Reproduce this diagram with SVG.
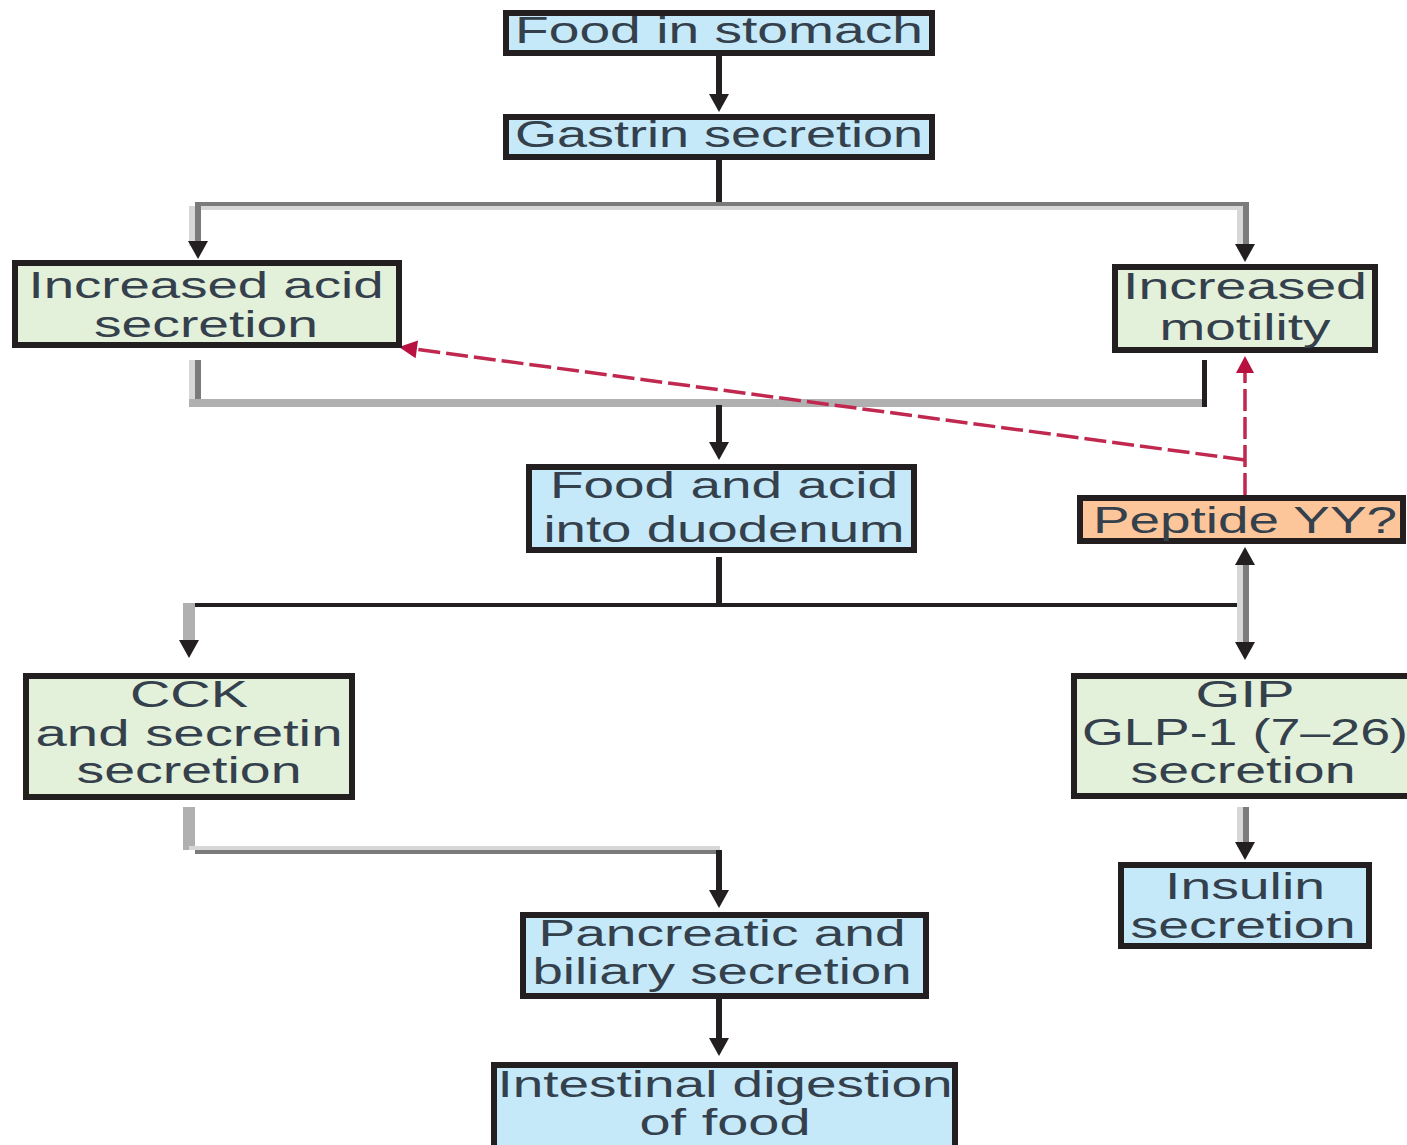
<svg xmlns="http://www.w3.org/2000/svg" xmlns:xlink="http://www.w3.org/1999/xlink" width="1407" height="1145" viewBox="0 0 1407 1145">
<style>
.box{stroke:#231f20;stroke-width:6}
.blue{fill:#c5e9f9}
.green{fill:#e3f0da}
.orange{fill:#fdc69a}
.t{font-family:"Liberation Sans",Arial,sans-serif;font-size:37px;fill:#34404c;text-anchor:middle}
.blk{stroke:#231f20;stroke-width:6;fill:none}
.dk{fill:#7b7b7b}
.lt{fill:#d7d7d7}
.md{fill:#b0b0b0}
.red{stroke:#c0284f;stroke-width:3.5;fill:none;stroke-dasharray:22 6}
.ah{fill:#231f20}
.rah{fill:#b8103f}
</style>
<defs>
<path id="ah" d="M-10,-18 L10,-18 L0,0 Z"/>
</defs>
<rect width="1407" height="1145" fill="#ffffff"/>

<g id="connectors">
<!-- Food in stomach -> Gastrin -->
<line class="blk" x1="719" y1="56" x2="719" y2="96"/>
<use href="#ah" class="ah" x="719" y="112"/>
<!-- Gastrin -> split -->
<line class="blk" x1="719" y1="160" x2="719" y2="206"/>
<rect class="dk" x="195" y="202" width="1054" height="4"/>
<rect class="lt" x="189" y="206" width="1054" height="4"/>
<rect class="lt" x="189" y="206" width="6" height="40"/>
<rect class="dk" x="195" y="202" width="6" height="44"/>
<use href="#ah" class="ah" x="198" y="259"/>
<rect class="lt" x="1237" y="210" width="6" height="36"/>
<rect class="dk" x="1243" y="202" width="6" height="44"/>
<use href="#ah" class="ah" x="1245" y="262"/>
<!-- acid / motility -> food and acid -->
<rect class="lt" x="189" y="360" width="6" height="40"/>
<rect class="dk" x="195" y="360" width="6" height="40"/>
<rect class="md" x="189" y="399" width="1018" height="8"/>
<rect x="1202" y="360" width="5" height="47" fill="#231f20"/>
<line class="blk" x1="719" y1="405" x2="719" y2="442"/>
<use href="#ah" class="ah" x="719" y="460"/>
<!-- food and acid -> split -->
<line class="blk" x1="719" y1="557" x2="719" y2="605"/>
<rect x="183" y="603" width="1062" height="4" fill="#231f20"/>
<rect class="md" x="183" y="603" width="12" height="40"/>
<use href="#ah" class="ah" x="189" y="658"/>
<!-- Peptide <-> GIP -->
<rect class="lt" x="1237" y="562" width="6" height="82"/>
<rect class="dk" x="1243" y="562" width="6" height="82"/>
<use href="#ah" class="ah" transform="translate(1245,547) rotate(180)"/>
<use href="#ah" class="ah" x="1245" y="660"/>
<!-- CCK -> pancreatic -->
<rect class="md" x="183" y="807" width="12" height="43"/>
<rect class="lt" x="189" y="846" width="531" height="4"/>
<rect class="dk" x="195" y="850" width="525" height="4"/>
<line class="blk" x1="719" y1="850" x2="719" y2="892"/>
<use href="#ah" class="ah" x="719" y="908"/>
<!-- GIP -> insulin -->
<rect class="lt" x="1237" y="807" width="6" height="40"/>
<rect class="dk" x="1243" y="807" width="6" height="40"/>
<use href="#ah" class="ah" x="1245" y="860"/>
<!-- pancreatic -> intestinal -->
<line class="blk" x1="719" y1="999" x2="719" y2="1040"/>
<use href="#ah" class="ah" x="719" y="1056"/>
<!-- Peptide YY red dashed -->
<line class="red" x1="1245" y1="495" x2="1245" y2="372"/>
<polygon class="rah" points="1236,373 1254,373 1245,356"/>
<line class="red" x1="1245" y1="460" x2="414" y2="349"/>
<polygon class="rah" points="399,347 415.6,358.3 418,340.5"/>
</g>

<g id="food_stomach">
<rect class="box blue" x="506" y="13" width="426" height="40"/>
<text class="t" x="719" y="43" textLength="408" lengthAdjust="spacingAndGlyphs">Food in stomach</text>
</g>
<g id="gastrin">
<rect class="box blue" x="506" y="117" width="426" height="40"/>
<text class="t" x="719" y="147" textLength="408" lengthAdjust="spacingAndGlyphs">Gastrin secretion</text>
</g>
<g id="acid">
<rect class="box green" x="15" y="263" width="384" height="82"/>
<text class="t" x="206" y="298" textLength="355" lengthAdjust="spacingAndGlyphs">Increased acid</text>
<text class="t" x="206" y="337" textLength="224" lengthAdjust="spacingAndGlyphs">secretion</text>
</g>
<g id="motility">
<rect class="box green" x="1115" y="267" width="260" height="83"/>
<text class="t" x="1245" y="299" textLength="244" lengthAdjust="spacingAndGlyphs">Increased</text>
<text class="t" x="1245" y="340" textLength="171" lengthAdjust="spacingAndGlyphs">motility</text>
</g>
<g id="food_acid">
<rect class="box blue" x="529" y="467" width="385" height="83"/>
<text class="t" x="724" y="498" textLength="348" lengthAdjust="spacingAndGlyphs">Food and acid</text>
<text class="t" x="724" y="542" textLength="361" lengthAdjust="spacingAndGlyphs">into duodenum</text>
</g>
<g id="peptide_yy">
<rect class="box orange" x="1080" y="498" width="323" height="43"/>
<text class="t" x="1245" y="533" textLength="304" lengthAdjust="spacingAndGlyphs">Peptide YY?</text>
</g>
<g id="cck">
<rect class="box green" x="26" y="676" width="326" height="121"/>
<text class="t" x="189" y="707" textLength="118" lengthAdjust="spacingAndGlyphs">CCK</text>
<text class="t" x="189" y="746" textLength="307" lengthAdjust="spacingAndGlyphs">and secretin</text>
<text class="t" x="189" y="783" textLength="225" lengthAdjust="spacingAndGlyphs">secretion</text>
</g>
<g id="gip">
<rect class="box green" x="1074" y="676" width="360" height="120"/>
<text class="t" x="1245" y="707" textLength="99" lengthAdjust="spacingAndGlyphs">GIP</text>
<text class="t" x="1245" y="745" textLength="326" lengthAdjust="spacingAndGlyphs">GLP-1 (7–26)</text>
<text class="t" x="1243" y="783" textLength="225" lengthAdjust="spacingAndGlyphs">secretion</text>
</g>
<g id="insulin">
<rect class="box blue" x="1121" y="865" width="248" height="81"/>
<text class="t" x="1245" y="899" textLength="160" lengthAdjust="spacingAndGlyphs">Insulin</text>
<text class="t" x="1243" y="938" textLength="225" lengthAdjust="spacingAndGlyphs">secretion</text>
</g>
<g id="pancreatic">
<rect class="box blue" x="523" y="915" width="403" height="81"/>
<text class="t" x="722" y="946" textLength="367" lengthAdjust="spacingAndGlyphs">Pancreatic and</text>
<text class="t" x="722" y="984" textLength="379" lengthAdjust="spacingAndGlyphs">biliary secretion</text>
</g>
<g id="intestinal">
<rect class="box blue" x="494" y="1065" width="461" height="100"/>
<text class="t" x="725" y="1097" textLength="455" lengthAdjust="spacingAndGlyphs">Intestinal digestion</text>
<text class="t" x="725" y="1135" textLength="171" lengthAdjust="spacingAndGlyphs">of food</text>
</g>
</svg>
